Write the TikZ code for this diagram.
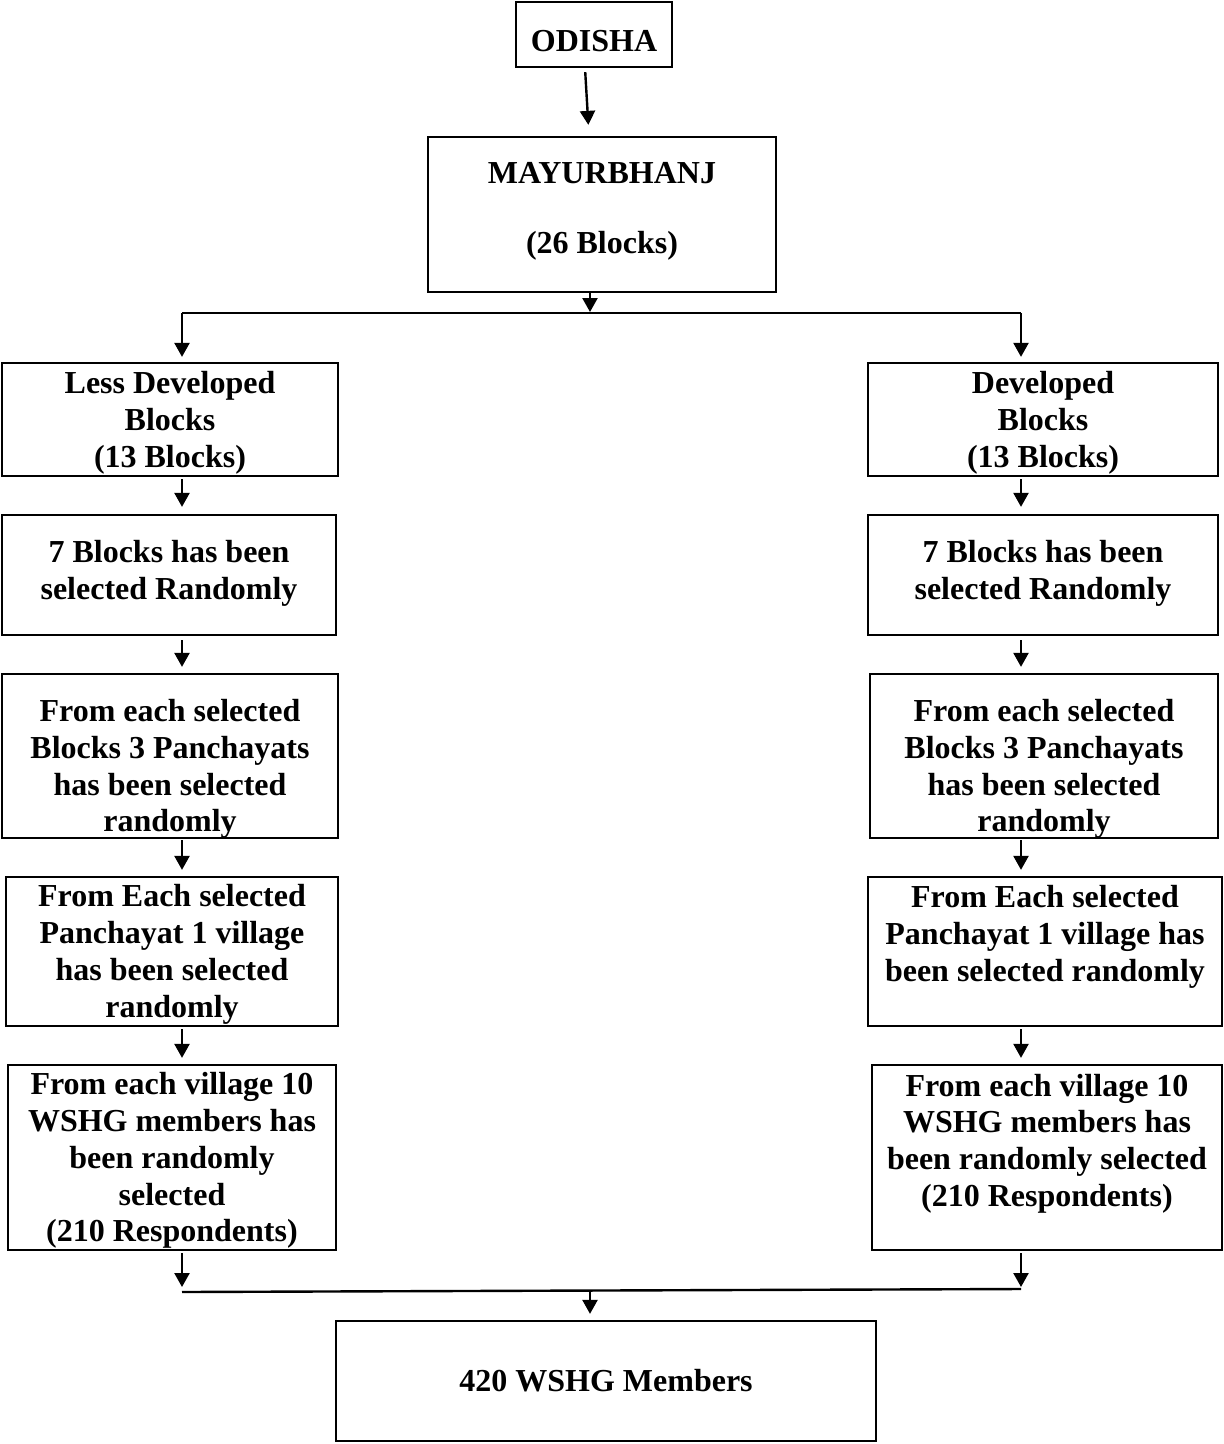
\documentclass[tikz,border=0pt]{standalone}
\usepackage{fontspec}
\setmainfont{Liberation Serif}
\usetikzlibrary{arrows.meta}
\begin{document}
\begin{tikzpicture}[x=1pt,y=-1pt,
  box/.style={draw,line width=2.3pt,inner sep=0pt},
  txt/.style={align=center,inner sep=0pt,font=\fontsize{32}{36.8}\selectfont\bfseries},
  arr/.style={line width=2.4pt,-{Triangle[width=15pt,length=14pt]}},
  link/.style={line width=2.4pt}]
\useasboundingbox (0,0) rectangle (1224,1444);

% boxes
\node[box,minimum width=156pt,minimum height=65pt]  (odisha) at (594,34.5) {};
\node[box,minimum width=348pt,minimum height=155pt] (mayur)  at (602,214.5) {};
\node[box,minimum width=336pt,minimum height=113pt] (L1) at (170,419.5) {};
\node[box,minimum width=350pt,minimum height=113pt] (R1) at (1043,419.5) {};
\node[box,minimum width=334pt,minimum height=120pt] (L2) at (169,575) {};
\node[box,minimum width=350pt,minimum height=120pt] (R2) at (1043,575) {};
\node[box,minimum width=336pt,minimum height=164pt] (L3) at (170,756) {};
\node[box,minimum width=348pt,minimum height=164pt] (R3) at (1044,756) {};
\node[box,minimum width=332pt,minimum height=149pt] (L4) at (172,951.5) {};
\node[box,minimum width=354pt,minimum height=149pt] (R4) at (1045,951.5) {};
\node[box,minimum width=328pt,minimum height=185pt] (L5) at (172,1157.5) {};
\node[box,minimum width=350pt,minimum height=185pt] (R5) at (1047,1157.5) {};
\node[box,minimum width=540pt,minimum height=120pt] (fin) at (606,1381) {};

% texts
\node[txt] (todisha) at ([yshift=-7pt]odisha.center) {ODISHA};
\node[txt] (tmayur) at ([yshift=3pt]mayur.center) {MAYURBHANJ\\[33pt](26 Blocks)};
\node[txt] (tL1) at ([yshift=-3pt]L1.center) {Less Developed\\Blocks\\(13 Blocks)};
\node[txt] (tR1) at ([yshift=-3pt]R1.center) {Developed\\Blocks\\(13 Blocks)};
\node[txt] (tL2) at ([yshift=2pt]L2.center) {7 Blocks has been\\selected Randomly};
\node[txt] (tR2) at ([yshift=2pt]R2.center) {7 Blocks has been\\selected Randomly};
\node[txt] (tL3) at ([yshift=-13pt]L3.center) {From each selected\\Blocks 3 Panchayats\\has been selected\\randomly};
\node[txt] (tR3) at ([yshift=-13pt]R3.center) {From each selected\\Blocks 3 Panchayats\\has been selected\\randomly};
\node[txt] (tL4) at ([yshift=-3pt]L4.center) {From Each selected\\Panchayat 1 village\\has been selected\\randomly};
\node[txt] (tR4) at ([yshift=14.5pt]R4.center) {From Each selected\\Panchayat 1 village has\\been selected randomly};
\node[txt] (tL5) at ([yshift=-3pt]L5.center) {From each village 10\\WSHG members has\\been randomly\\selected\\(210 Respondents)};
\node[txt] (tR5) at ([yshift=14pt]R5.center) {From each village 10\\WSHG members has\\been randomly selected\\(210 Respondents)};
\node[txt] (tfin) at ([yshift=0pt]fin.center) {420 WSHG Members};

% split and join points
\coordinate (ttop) at (590,313);
\coordinate (tl) at (182,313);
\coordinate (tr) at (1021,313);
\coordinate (bl) at (182,1292);
\coordinate (br) at (1021,1289);
\coordinate (bm) at (590,1291);

% top part
\draw[arr,shorten <=4pt,shorten >=11pt] ([xshift=-9pt]odisha.south) -- ([xshift=-13pt]mayur.north);
\draw[link] (tl) -- (tr);
\draw[arr,shorten >=1pt] (mayur.south -| ttop) -- (ttop);
\draw[arr,shorten >=5pt] (tl) -- (L1.north -| tl);
\draw[arr,shorten >=5pt] (tr) -- (R1.north -| tr);

% left column
\draw[arr,shorten <=2pt,shorten >=7pt] (L1.south -| tl) -- (L2.north -| tl);
\draw[arr,shorten <=4pt,shorten >=6pt] (L2.south -| tl) -- (L3.north -| tl);
\draw[arr,shorten <=1pt,shorten >=6pt] (L3.south -| tl) -- (L4.north -| tl);
\draw[arr,shorten <=2pt,shorten >=6pt] (L4.south -| tl) -- (L5.north -| tl);

% right column
\draw[arr,shorten <=2pt,shorten >=7pt] (R1.south -| tr) -- (R2.north -| tr);
\draw[arr,shorten <=4pt,shorten >=6pt] (R2.south -| tr) -- (R3.north -| tr);
\draw[arr,shorten <=1pt,shorten >=6pt] (R3.south -| tr) -- (R4.north -| tr);
\draw[arr,shorten <=2pt,shorten >=6pt] (R4.south -| tr) -- (R5.north -| tr);

% bottom join
\draw[arr,shorten <=2pt,shorten >=5pt] (L5.south -| bl) -- (bl);
\draw[arr,shorten <=2pt,shorten >=2pt] (R5.south -| br) -- (br);
\draw[link] (bl) -- (br);
\draw[arr,shorten >=6pt] (bm) -- (fin.north -| bm);
\end{tikzpicture}
\end{document}
